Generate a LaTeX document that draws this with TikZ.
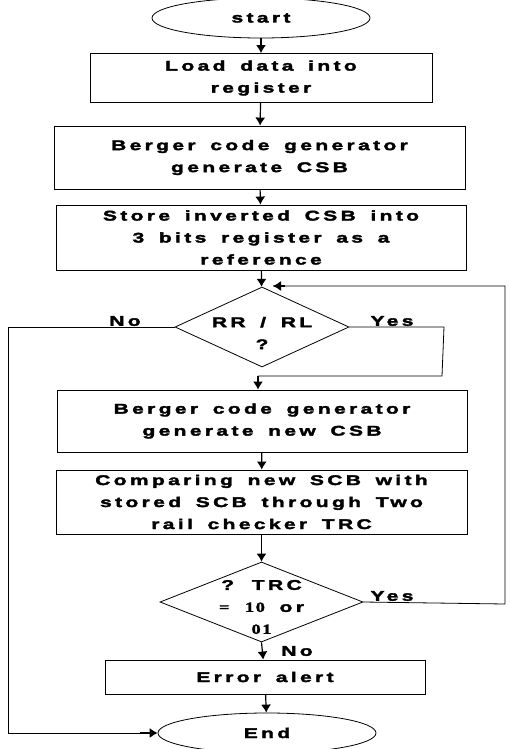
\documentclass[tikz,border=0pt]{standalone}
\usepackage{fontspec}
\usetikzlibrary{shapes.geometric,arrows.meta}
\newfontfamily\boxfont[FakeStretch=1.5,LetterSpace=24,WordSpace=1.6,FakeBold=2.5]{Liberation Sans Bold}
\newfontfamily\numfont[FakeStretch=1.3,LetterSpace=12,WordSpace=2.5,FakeBold=2]{Liberation Serif Bold}

\tikzset{
  every node/.style={font=\boxfont\fontsize{14}{22}\selectfont},
  stepbox/.style={draw, line width=0.9pt, align=center, inner sep=0pt},
  terminal/.style={draw, ellipse, line width=0.8pt, inner sep=0pt},
  decision/.style={draw, diamond, line width=0.8pt, inner sep=0pt},
  flow/.style={line width=1.2pt, -{Latex[length=8pt,width=10pt]}},
  back/.style={line width=0.8pt},
}

\begin{document}
\begin{tikzpicture}[x=1pt,y=-1pt]
	\useasboundingbox (0,0) rectangle (509,749);

	\node[terminal, minimum width=218pt, minimum height=40pt] (start) at (261,18) {start};
	\node[stepbox, minimum width=342pt, minimum height=49pt] (load) at (261,78) {Load data into\\register};
	\node[stepbox, minimum width=411pt, minimum height=63pt] (gen) at (259.5,157.5) {Berger code generator\\generate CSB};
	\node[stepbox, minimum width=410pt, minimum height=65pt] (store) at (261,237.5) {Store inverted CSB into\\3 bits register as a\\reference};
	\node[decision, minimum width=174pt, minimum height=80pt] (rot) at (262,327) {};
	\node[align=center] (rottext) at (262,333) {RR / RL\\?};
	\node[stepbox, minimum width=410pt, minimum height=62pt] (newgen) at (262,421) {Berger code generator\\generate new CSB};
	\node[stepbox, minimum width=411pt, minimum height=64pt] (cmp) at (261.5,502) {Comparing new SCB with\\stored SCB through Two\\rail checker TRC};
	\node[decision, minimum width=203pt, minimum height=80pt] (trc) at (261.5,602) {};
	\node[align=center] (trctext) at (261.5,607) {? TRC\\{\numfont=\ 10} or\\{\numfont 01}};
	\node[stepbox, minimum width=320pt, minimum height=34pt] (err) at (265,677) {Error alert};
	\node[terminal, minimum width=218pt, minimum height=40pt] (end) at (267,733) {End};

	% main line
	\draw[flow] (start) -- (load);
	\draw[flow] (load) -- (gen);
	\draw[flow] (gen) -- (store);
	\draw[flow] (store) -- (rot);
	\draw[flow] (newgen) -- (cmp);
	\draw[flow] (cmp) -- (trc);
	\draw[flow] (trc.south) -- (err);
	\draw[flow] (err) -- (end);

	% branches
	\coordinate (yesin) at (258,376);
	\coordinate (loopin) at (273,286);
	\draw[back] (rot.east) -- (444,327) -- (442,376) -- (yesin);
	\draw[flow] (yesin) -- (yesin |- newgen.north);
	\draw[back] (trc.east) -- (505,604) -- (505,286) -- (loopin);
	\draw[flow] (285,286) -- (loopin);
	\draw[back] (rot.west) -- (8,327) -- (8,733) -- (140,733);
	\draw[flow] (140,733) -- (end.west);

	\node (no1) at (125,321) {No};
	\node (yes1) at (392,321) {Yes};
	\node (yes2) at (392,596) {Yes};
	\node (no2) at (297,651) {No};
\end{tikzpicture}
\end{document}
